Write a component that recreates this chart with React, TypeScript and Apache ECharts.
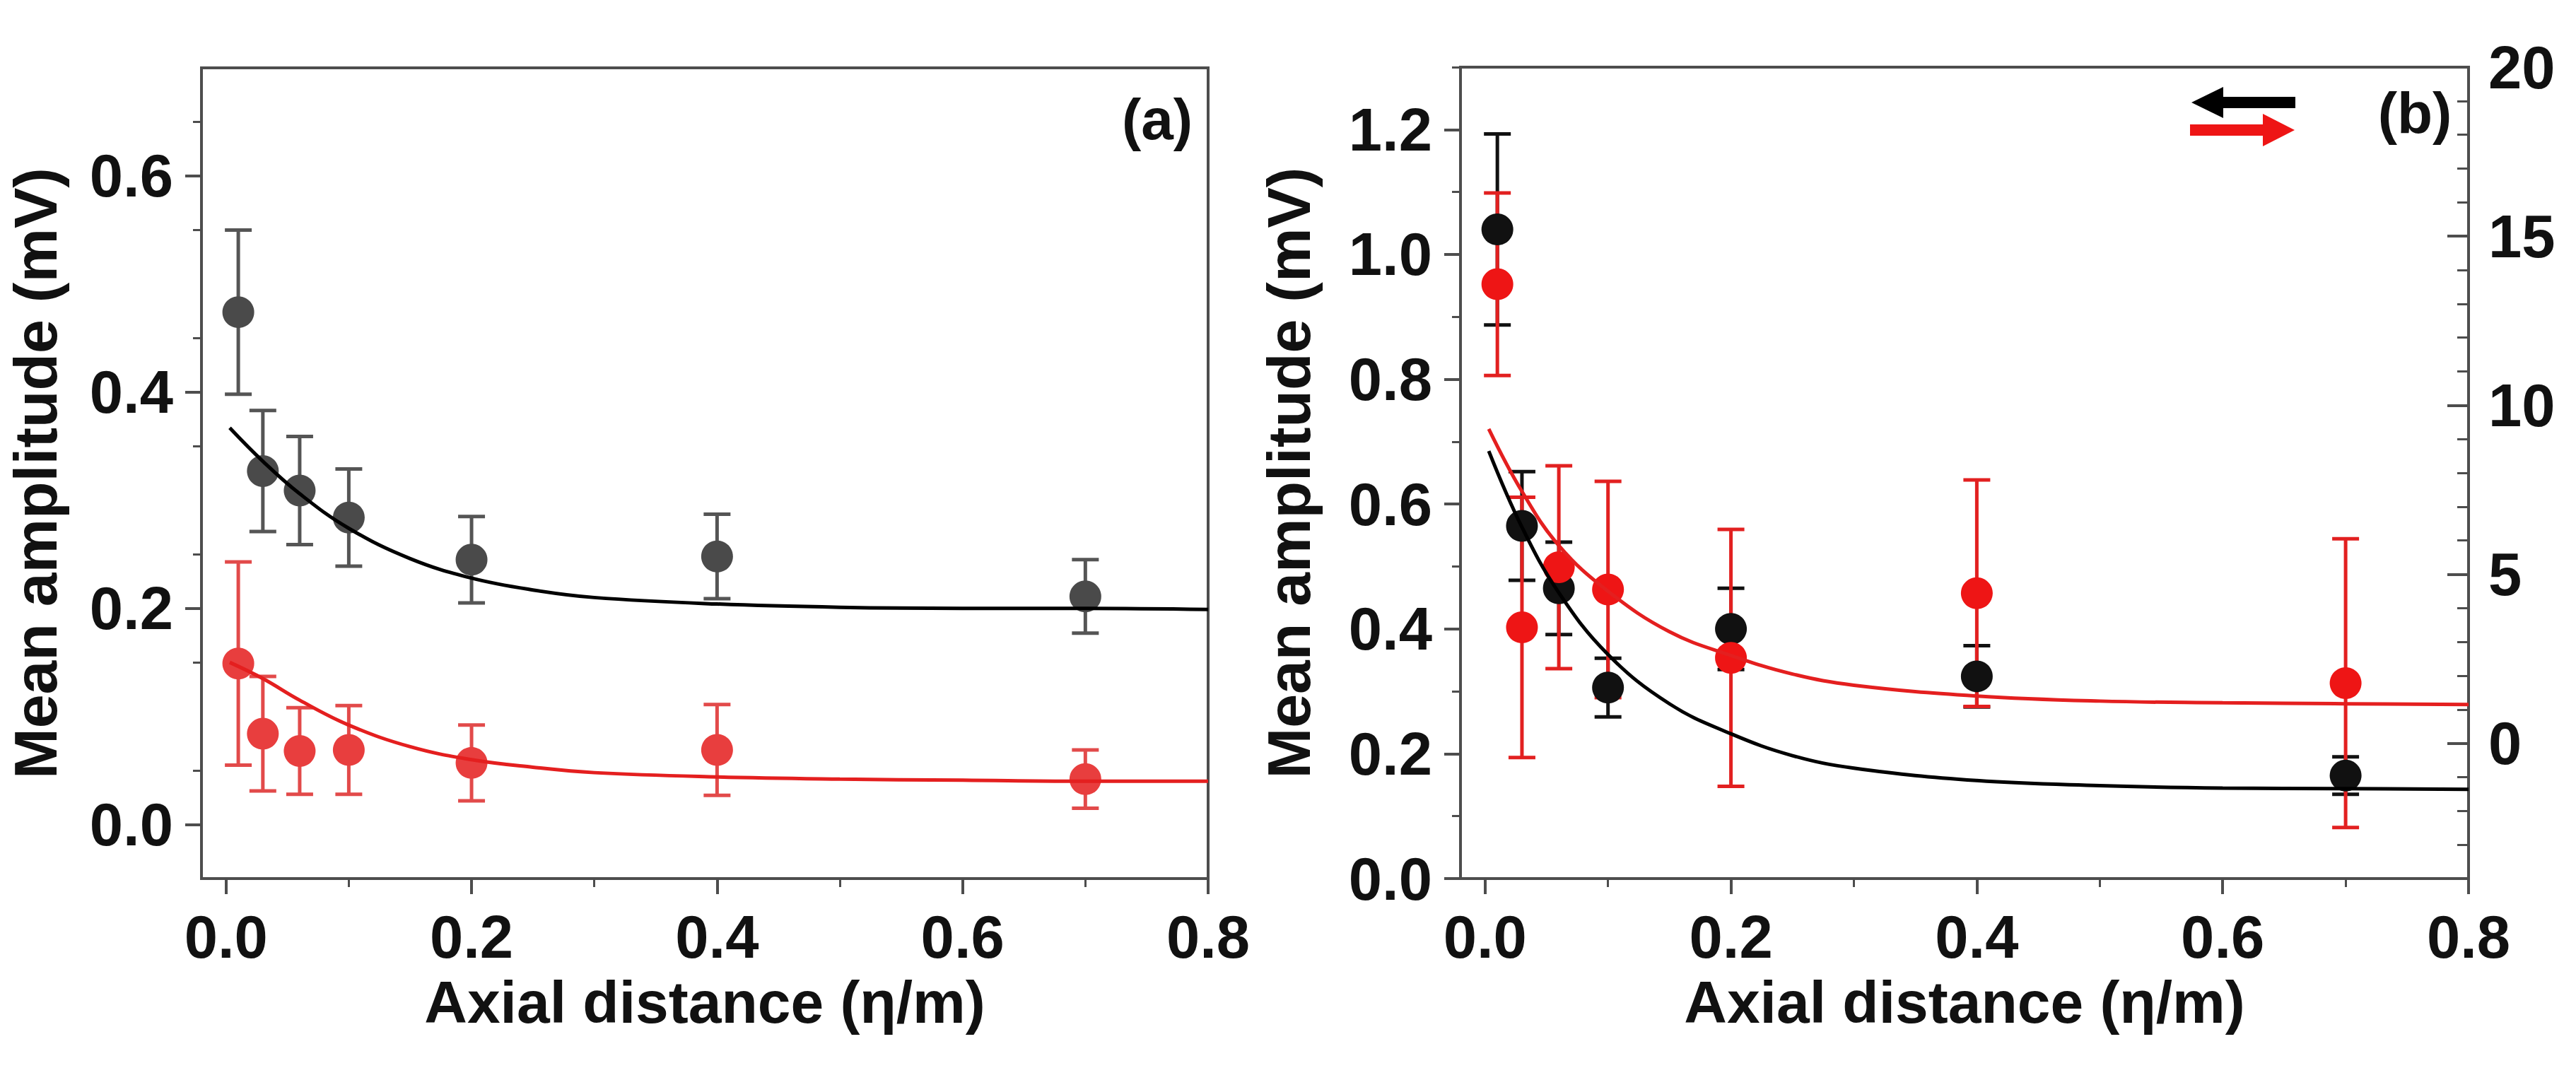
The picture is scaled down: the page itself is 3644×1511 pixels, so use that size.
import React, { useEffect, useRef } from 'react';
import * as echarts from 'echarts';

// measured distances (same for both panels)
const xs = [0.01, 0.03, 0.06, 0.1, 0.2, 0.4, 0.7];

// panel (a)
const aBlack = [0.474, 0.327, 0.309, 0.284, 0.245, 0.248, 0.211];
const aBlackErr = [0.076, 0.056, 0.05, 0.045, 0.04, 0.039, 0.034];
const aRed = [0.149, 0.084, 0.068, 0.069, 0.057, 0.069, 0.042];
const aRedErr = [0.094, 0.053, 0.04, 0.041, 0.035, 0.042, 0.027];

// panel (b): black on left axis (mV), red on right axis
const bBlack = [1.04, 0.565, 0.465, 0.306, 0.4, 0.324, 0.165];
const bBlackErr = [0.153, 0.087, 0.074, 0.047, 0.065, 0.049, 0.03];
const bRed = [13.58, 3.43, 5.21, 4.55, 2.53, 4.44, 1.78];
const bRedErr = [2.7, 3.85, 3.0, 3.2, 3.8, 3.35, 4.27];

// fitted curves
const fitX = [0.003, 0.03, 0.06, 0.1, 0.15, 0.2, 0.25, 0.3, 0.4, 0.5, 0.6, 0.7, 0.8];
const aBlackFit = [0.367, 0.336, 0.306, 0.274, 0.246, 0.228, 0.217, 0.21, 0.204, 0.201, 0.2, 0.2, 0.199];
const aRedFit = [0.15, 0.135, 0.115, 0.092, 0.072, 0.06, 0.053, 0.048, 0.044, 0.042, 0.041, 0.04, 0.04];
const bBlackFit = [0.685, 0.563, 0.458, 0.359, 0.28, 0.232, 0.197, 0.177, 0.157, 0.149, 0.145, 0.144, 0.143];
const bRedFit = [9.3, 7.45, 5.85, 4.5, 3.3, 2.6, 2.05, 1.72, 1.4, 1.25, 1.2, 1.17, 1.15];

const xTicks = [0, 0.2, 0.4, 0.6, 0.8];
const aYTicks = [0, 0.2, 0.4, 0.6];
const bYTicks = [0, 0.2, 0.4, 0.6, 0.8, 1.0, 1.2];
const bY2Ticks = [0, 5, 10, 15, 20];

const FONT = '"Liberation Sans", Arial, sans-serif';
const AXIS = '#4d4d4d';

const pairs = (x: number[], y: number[]) => x.map((v, i) => [v, y[i]]);
const bars = (y: number[], e: number[]) => xs.map((x, i) => [x, y[i] - e[i], y[i] + e[i]]);

function errorBars(data: number[][], color: string, xAxisIndex: number, yAxisIndex: number, z: number) {
  return {
    type: 'custom',
    xAxisIndex,
    yAxisIndex,
    z,
    data,
    encode: { x: 0, y: [1, 2] },
    renderItem: (_p: any, api: any) => {
      const hi = api.coord([api.value(0), api.value(2)]);
      const lo = api.coord([api.value(0), api.value(1)]);
      const cap = 19;
      const st = { stroke: color, lineWidth: 5 };
      return {
        type: 'group',
        children: [
          { type: 'line', shape: { x1: hi[0], y1: hi[1], x2: lo[0], y2: lo[1] }, style: st },
          { type: 'line', shape: { x1: hi[0] - cap, y1: hi[1], x2: hi[0] + cap, y2: hi[1] }, style: st },
          { type: 'line', shape: { x1: lo[0] - cap, y1: lo[1], x2: lo[0] + cap, y2: lo[1] }, style: st },
        ],
      };
    },
  };
}

function xAxis(gridIndex: number) {
  return {
    type: 'value',
    gridIndex,
    min: -0.02,
    max: 0.8,
    name: 'Axial distance (\u03b7/m)',
    nameLocation: 'middle',
    nameGap: 133,
    nameTextStyle: { fontSize: 84, fontWeight: 'bold', color: '#111', fontFamily: FONT },
    axisLine: { show: true, onZero: false, lineStyle: { color: AXIS, width: 4 } },
    axisTick: { show: true, inside: false, length: 22, lineStyle: { color: AXIS, width: 4 }, customValues: xTicks },
    minorTick: { show: true, splitNumber: 2, length: 12, lineStyle: { color: AXIS, width: 3 } },
    axisLabel: {
      show: true, margin: 40, fontSize: 85, fontWeight: 'bold', color: '#111', fontFamily: FONT,
      customValues: xTicks, formatter: (v: number) => v.toFixed(1),
    },
    splitLine: { show: false },
  };
}

export default function App() {
  const ref = useRef<HTMLDivElement>(null);
  useEffect(() => {
    if (!ref.current) return;
    const chart = echarts.init(ref.current, null, { renderer: 'svg' });
    const yName = {
      name: 'Mean amplitude (mV)',
      nameLocation: 'middle',
      nameTextStyle: { fontSize: 86, fontWeight: 'bold', color: '#111', fontFamily: FONT },
    };
    const yCommon = {
      type: 'value',
      axisLine: { show: true, onZero: false, lineStyle: { color: AXIS, width: 4 } },
      axisTick: { show: true, inside: false, length: 23, lineStyle: { color: AXIS, width: 4 } },
      minorTick: { show: true, splitNumber: 2, length: 12, lineStyle: { color: AXIS, width: 3 } },
      splitLine: { show: false },
    };
    const label = { fontSize: 85, fontWeight: 'bold', color: '#111', fontFamily: FONT };

    chart.setOption({
      animation: false,
      backgroundColor: '#fff',
      textStyle: { fontFamily: FONT },
      grid: [
        { left: 285, top: 96, width: 1424, height: 1147, show: true, borderColor: AXIS, borderWidth: 4 },
        { left: 2066, top: 95, width: 1426, height: 1148, show: true, borderColor: AXIS, borderWidth: 4 },
      ],
      xAxis: [xAxis(0), xAxis(1)],
      yAxis: [
        {
          ...yCommon, ...yName, gridIndex: 0, min: -0.05, max: 0.7, nameGap: 192,
          axisTick: { ...yCommon.axisTick, customValues: aYTicks },
          axisLabel: { ...label, margin: 40, customValues: aYTicks, formatter: (v: number) => v.toFixed(1) },
        },
        {
          ...yCommon, ...yName, gridIndex: 1, min: 0, max: 1.3, interval: 0.2, nameGap: 200,
          axisTick: { ...yCommon.axisTick, customValues: bYTicks },
          axisLabel: { ...label, margin: 40, customValues: bYTicks, formatter: (v: number) => v.toFixed(1) },
        },
        {
          ...yCommon, gridIndex: 1, position: 'right', min: -4, max: 20,
          axisTick: { show: true, inside: true, length: 30, lineStyle: { color: AXIS, width: 4 }, customValues: bY2Ticks },
          minorTick: { show: true, splitNumber: 5, length: 16, lineStyle: { color: AXIS, width: 3 } },
          axisLabel: { ...label, margin: 28, customValues: bY2Ticks },
        },
      ],
      series: [
        // panel (a)
        errorBars(bars(aBlack, aBlackErr), '#555555', 0, 0, 2),
        errorBars(bars(aRed, aRedErr), '#e24a4a', 0, 0, 2),
        { type: 'scatter', xAxisIndex: 0, yAxisIndex: 0, z: 3, symbolSize: 45, data: pairs(xs, aBlack), itemStyle: { color: '#4a4a4a', opacity: 1 } },
        { type: 'scatter', xAxisIndex: 0, yAxisIndex: 0, z: 3, symbolSize: 45, data: pairs(xs, aRed), itemStyle: { color: '#e83e3e', opacity: 1 } },
        { type: 'line', xAxisIndex: 0, yAxisIndex: 0, z: 4, smooth: 0.4, showSymbol: false, data: pairs(fitX, aBlackFit), lineStyle: { color: '#000', width: 5 } },
        { type: 'line', xAxisIndex: 0, yAxisIndex: 0, z: 4, smooth: 0.4, showSymbol: false, data: pairs(fitX, aRedFit), lineStyle: { color: '#e41f1f', width: 5 } },
        // panel (b)
        errorBars(bars(bBlack, bBlackErr), '#111111', 1, 1, 2),
        errorBars(bars(bRed, bRedErr), '#e22020', 1, 2, 2),
        { type: 'scatter', xAxisIndex: 1, yAxisIndex: 1, z: 3, symbolSize: 45, data: pairs(xs, bBlack), itemStyle: { color: '#111', opacity: 1 } },
        { type: 'scatter', xAxisIndex: 1, yAxisIndex: 2, z: 3, symbolSize: 45, data: pairs(xs, bRed), itemStyle: { color: '#ee1515', opacity: 1 } },
        { type: 'line', xAxisIndex: 1, yAxisIndex: 1, z: 4, smooth: 0.4, showSymbol: false, data: pairs(fitX, bBlackFit), lineStyle: { color: '#000', width: 5 } },
        { type: 'line', xAxisIndex: 1, yAxisIndex: 2, z: 4, smooth: 0.4, showSymbol: false, data: pairs(fitX, bRedFit), lineStyle: { color: '#e41f1f', width: 5 } },
      ],
      graphic: [
        { type: 'text', x: 1637, y: 168, style: { text: '(a)', font: `bold 82px ${FONT}`, fill: '#111', align: 'center', verticalAlign: 'middle' } },
        { type: 'text', x: 3416, y: 159, style: { text: '(b)', font: `bold 82px ${FONT}`, fill: '#111', align: 'center', verticalAlign: 'middle' } },
        // axis-direction arrows
        { type: 'line', shape: { x1: 3247, y1: 145, x2: 3130, y2: 145 }, style: { stroke: '#000', lineWidth: 16 } },
        { type: 'polygon', shape: { points: [[3100, 145], [3145, 123], [3145, 167]] }, style: { fill: '#000' } },
        { type: 'line', shape: { x1: 3098, y1: 184, x2: 3210, y2: 184 }, style: { stroke: '#ee1515', lineWidth: 16 } },
        { type: 'polygon', shape: { points: [[3246, 184], [3201, 161], [3201, 207]] }, style: { fill: '#ee1515' } },
      ],
    });
    return () => chart.dispose();
  }, []);
  return <div ref={ref} style={{ position: 'fixed', left: 0, top: 0, width: 3644, height: 1511 }} />;
}
